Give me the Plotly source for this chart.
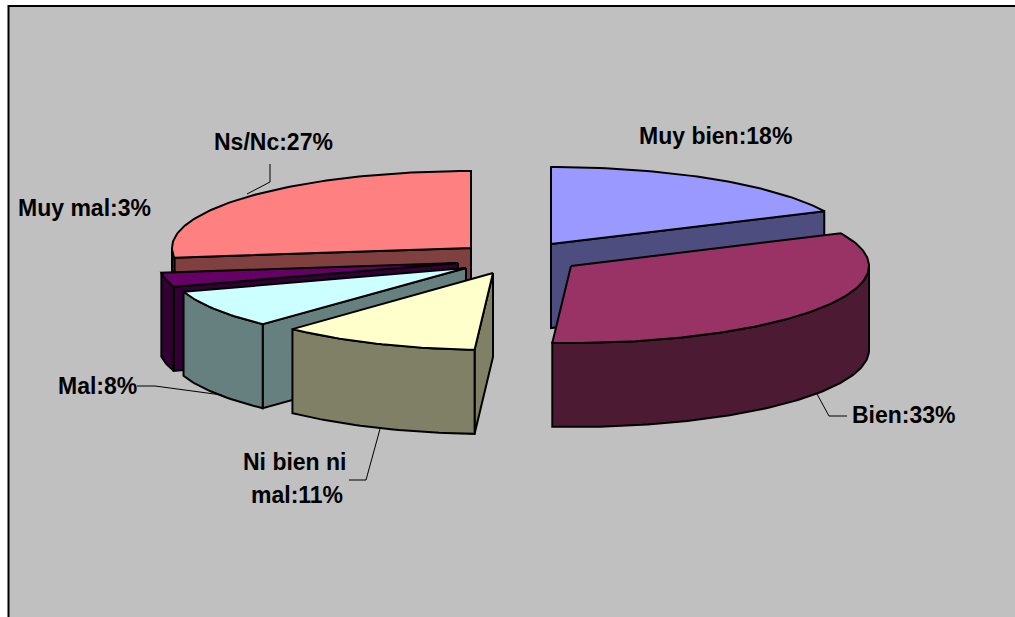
import math
import plotly.graph_objects as go

# ---- data ----
categories = ["Muy bien", "Bien", "Ni bien ni mal", "Mal", "Muy mal", "Ns/Nc"]
values = [18, 33, 11, 8, 3, 27]
top_colors = ["#9999ff", "#993366", "#ffffcc", "#ccffff", "#660066", "#ff8080"]
side_colors = ["#4d4d80", "#4d1a33", "#808066", "#668080", "#330033", "#804040"]

# ---- layout geometry (pixels of the 1015x617 canvas) ----
W, H = 1015, 617
RY, DEPTH = 77, 84
apex = {
    "Muy bien": (551, 244), "Bien": (571, 266), "Ni bien ni mal": (493, 273),
    "Mal": (466, 268), "Muy mal": (458, 263), "Ns/Nc": (471, 248),
}
radius_x = {
    "Muy bien": 302, "Bien": 298, "Ni bien ni mal": 293,
    "Mal": 297, "Muy mal": 299, "Ns/Nc": 299,
}
draw_order = ["Muy bien", "Bien", "Ns/Nc", "Muy mal", "Mal", "Ni bien ni mal"]
labels = [
    (715, 136, "Muy bien:18%"),
    (904, 415, "Bien:33%"),
    (295, 462, "Ni bien ni"),
    (297, 495, "mal:11%"),
    (97, 386, "Mal:8%"),
    (84, 208, "Muy mal:3%"),
    (273, 142, "Ns/Nc:27%"),
]
leaders = [
    [(270, 164), (270, 182), (247, 194)],
    [(137, 386), (155, 386), (222, 395)],
    [(380, 429), (366, 480), (349, 480)],
    [(817, 394), (829, 416), (847, 416)],
]

total = sum(values)
bounds = {}
acc = 0.0
for name, v in zip(categories, values):
    bounds[name] = (acc / total * 2 * math.pi, (acc + v) / total * 2 * math.pi)
    acc += v


def pt(c, rx, t, dz=0):
    return (c[0] + rx * math.sin(t), c[1] - RY * math.cos(t) + dz)


def arc(c, rx, t0, t1, dz=0):
    n = max(2, int(abs(t1 - t0) / 0.02))
    return [pt(c, rx, t0 + (t1 - t0) * i / n, dz) for i in range(n + 1)]


fig = go.Figure()


def poly(points, color, width=2):
    xs = [p[0] for p in points] + [points[0][0]]
    ys = [p[1] for p in points] + [points[0][1]]
    fig.add_trace(go.Scatter(x=xs, y=ys, mode="lines", fill="toself", fillcolor=color,
                             line=dict(color="#000000", width=width), hoverinfo="skip",
                             showlegend=False))


def color_of(name):
    i = categories.index(name)
    return top_colors[i], side_colors[i]


for name in draw_order:
    c = apex[name]
    rx = radius_x[name]
    t0, t1 = bounds[name]
    top, side = color_of(name)
    low = (c[0], c[1] + DEPTH)
    # visible cut faces
    if math.sin(t0) < -1e-6:
        a = pt(c, rx, t0)
        poly([c, a, (a[0], a[1] + DEPTH), low], side)
    if math.sin(t1) > 1e-6:
        a = pt(c, rx, t1)
        poly([c, a, (a[0], a[1] + DEPTH), low], side)
    # visible outer wall (front half of the rim)
    a0, a1 = max(t0, math.pi / 2), min(t1, 3 * math.pi / 2)
    if a1 > a0:
        poly(arc(c, rx, a0, a1) + arc(c, rx, a1, a0, DEPTH), side)
    # top
    poly([c] + arc(c, rx, t0, t1), top)

for seg in leaders:
    fig.add_trace(go.Scatter(x=[p[0] for p in seg], y=[p[1] for p in seg], mode="lines",
                             line=dict(color="#000000", width=1), hoverinfo="skip",
                             showlegend=False))

annotations = [
    dict(x=x, y=y, text=f"<b>{t}</b>", showarrow=False, xanchor="center", yanchor="middle",
         font=dict(family="Liberation Sans", size=23, color="#000000"), align="center")
    for x, y, t in labels
]

fig.update_layout(
    width=W, height=H, margin=dict(l=0, r=0, t=0, b=0),
    paper_bgcolor="#ffffff", plot_bgcolor="#ffffff", showlegend=False,
    xaxis=dict(range=[0, W], visible=False, fixedrange=True),
    yaxis=dict(range=[H, 0], visible=False, fixedrange=True),
    annotations=annotations,
    shapes=[dict(type="rect", xref="x", yref="y", x0=8.5, y0=6, x1=W + 5, y1=H + 5,
                 fillcolor="#c0c0c0", line=dict(color="#000000", width=2), layer="below")],
)
fig.write_html("out.html", config={"displayModeBar": False},
               post_script="document.body.style.margin='0';document.body.style.overflow='hidden';")
